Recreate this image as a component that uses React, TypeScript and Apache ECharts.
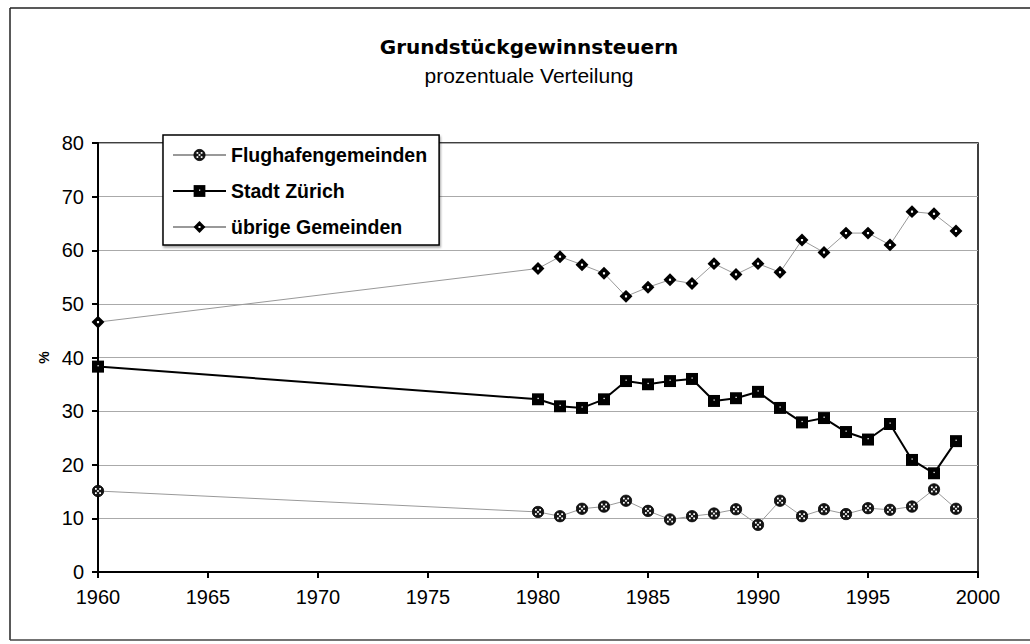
import React, { useEffect, useRef } from "react";
import * as echarts from "echarts";

const years = [1960, 1980, 1981, 1982, 1983, 1984, 1985, 1986, 1987, 1988, 1989, 1990, 1991, 1992, 1993, 1994, 1995, 1996, 1997, 1998, 1999];
const flughafen = [15.1, 11.2, 10.4, 11.8, 12.2, 13.3, 11.4, 9.8, 10.4, 10.9, 11.7, 8.8, 13.3, 10.4, 11.7, 10.8, 11.9, 11.6, 12.2, 15.4, 11.8];
const stadt = [38.3, 32.2, 30.9, 30.6, 32.2, 35.6, 35.0, 35.6, 36.0, 31.9, 32.4, 33.6, 30.6, 27.9, 28.7, 26.1, 24.7, 27.6, 20.9, 18.4, 24.4];
const uebrige = [46.6, 56.6, 58.8, 57.3, 55.7, 51.4, 53.1, 54.5, 53.8, 57.5, 55.5, 57.5, 55.9, 61.9, 59.6, 63.2, 63.2, 61.0, 67.2, 66.8, 63.6];
const seriesNames = ["Flughafengemeinden", "Stadt Zürich", "übrige Gemeinden"];
const xTicks = { min: 1960, max: 2000, interval: 5 };
const yTicks = { min: 0, max: 80, interval: 10 };

const svgUri = (s: string) => "image://data:image/svg+xml;utf8," + encodeURIComponent(s);

const circleSym = svgUri(
  "<svg xmlns='http://www.w3.org/2000/svg' width='26' height='26' viewBox='0 0 26 26'>" +
    "<circle cx='13' cy='13' r='11.5' fill='#161616' stroke='#000' stroke-width='1.5'/>" +
    "<rect x='7' y='7' width='3.5' height='3.5' fill='#fff'/>" +
    "<rect x='15.5' y='7' width='3.5' height='3.5' fill='#fff'/>" +
    "<rect x='11.2' y='11.2' width='3.5' height='3.5' fill='#fff'/>" +
    "<rect x='7' y='15.5' width='3.5' height='3.5' fill='#fff'/>" +
    "<rect x='15.5' y='15.5' width='3.5' height='3.5' fill='#fff'/>" +
    "</svg>"
);
const diamondSym = svgUri(
  "<svg xmlns='http://www.w3.org/2000/svg' width='26' height='26' viewBox='0 0 26 26'>" +
    "<polygon points='13,1 25,13 13,25 1,13' fill='#000'/>" +
    "<rect x='11' y='11' width='4' height='4' fill='#fff'/>" +
    "</svg>"
);
const squareSym = svgUri(
  "<svg xmlns='http://www.w3.org/2000/svg' width='26' height='26' viewBox='0 0 26 26'>" +
    "<rect x='1' y='1' width='24' height='24' fill='#000'/>" +
    "<rect x='12' y='10' width='2.5' height='2.5' fill='#fff'/>" +
    "</svg>"
);

const FONT = "'Liberation Sans', Arial, sans-serif";
const WIDE = "'DejaVu Sans', 'Liberation Sans', sans-serif";

export default function App() {
  const ref = useRef<HTMLDivElement>(null);
  useEffect(() => {
    if (!ref.current) return;
    const chart = echarts.init(ref.current, null, { renderer: "svg" });
    const pairs = (vals: number[]) => years.map((y, i) => [y, vals[i]]);
    chart.setOption({
      animation: false,
      backgroundColor: "#fff",
      textStyle: { fontFamily: FONT },
      title: {
        text: "Grundstückgewinnsteuern",
        subtext: "prozentuale Verteilung",
        left: 524,
        textAlign: "center",
        top: 32,
        itemGap: 8,
        textStyle: { fontFamily: WIDE, fontSize: 20, fontWeight: "bold", color: "#000" },
        subtextStyle: { fontFamily: FONT, fontSize: 21, color: "#000" },
      },
      graphic: [
        { type: "line", shape: { x1: 10, y1: 8, x2: 1030, y2: 8 }, style: { stroke: "#222", lineWidth: 1.5 }, silent: true },
        { type: "line", shape: { x1: 10, y1: 8, x2: 10, y2: 640 }, style: { stroke: "#222", lineWidth: 1.5 }, silent: true },
        { type: "line", shape: { x1: 10, y1: 640, x2: 1030, y2: 640 }, style: { stroke: "#444", lineWidth: 1.5 }, silent: true },
      ],
      legend: {
        orient: "vertical",
        left: 163,
        top: 135,
        padding: [10, 12, 8, 9],
        itemGap: 16,
        itemWidth: 53,
        itemHeight: 16,
        backgroundColor: "#fff",
        borderColor: "#000",
        borderWidth: 1.5,
        shadowColor: "rgba(0,0,0,0.35)",
        shadowBlur: 2,
        shadowOffsetX: 1,
        shadowOffsetY: 2,
        textStyle: { fontFamily: FONT, fontSize: 19.5, fontWeight: "bold", color: "#000" },
        data: seriesNames,
      },
      grid: { left: 98, right: 52, top: 143, bottom: 72, show: true, borderColor: "#000", borderWidth: 1.5, backgroundColor: "transparent" },
      xAxis: {
        type: "value",
        min: xTicks.min,
        max: xTicks.max,
        interval: xTicks.interval,
        axisLine: { show: true, lineStyle: { color: "#000", width: 2 } },
        axisTick: { show: true, length: 6, lineStyle: { color: "#000", width: 2 } },
        axisLabel: { fontFamily: FONT, fontSize: 20, color: "#000", margin: 15, formatter: (v: number) => String(v) },
        splitLine: { show: false },
      },
      yAxis: {
        type: "value",
        min: yTicks.min,
        max: yTicks.max,
        interval: yTicks.interval,
        name: "%",
        nameLocation: "middle",
        nameRotate: 90,
        nameGap: 46,
        nameTextStyle: { fontFamily: FONT, fontSize: 14, fontWeight: "bold", color: "#000" },
        axisLine: { show: true, lineStyle: { color: "#000", width: 2 } },
        axisTick: { show: true, length: 6, lineStyle: { color: "#000", width: 2 } },
        axisLabel: { fontFamily: FONT, fontSize: 20, color: "#000", margin: 14 },
        splitLine: { show: true, lineStyle: { color: "#aaa", width: 1 } },
      },
      series: [
        {
          name: seriesNames[0],
          type: "line",
          data: pairs(flughafen),
          symbol: circleSym,
          symbolSize: 13,
          lineStyle: { color: "#999", width: 1 },
          itemStyle: { color: "#333" },
          z: 3,
        },
        {
          name: seriesNames[1],
          type: "line",
          data: pairs(stadt),
          symbol: squareSym,
          symbolSize: 13,
          lineStyle: { color: "#000", width: 2 },
          itemStyle: { color: "#000" },
          z: 3,
        },
        {
          name: seriesNames[2],
          type: "line",
          data: pairs(uebrige),
          symbol: diamondSym,
          symbolSize: 14,
          lineStyle: { color: "#999", width: 1 },
          itemStyle: { color: "#000" },
          z: 3,
        },
      ],
    });
    return () => chart.dispose();
  }, []);
  return <div ref={ref} style={{ width: 1030, height: 644, position: "absolute", left: 0, top: 0 }} />;
}
